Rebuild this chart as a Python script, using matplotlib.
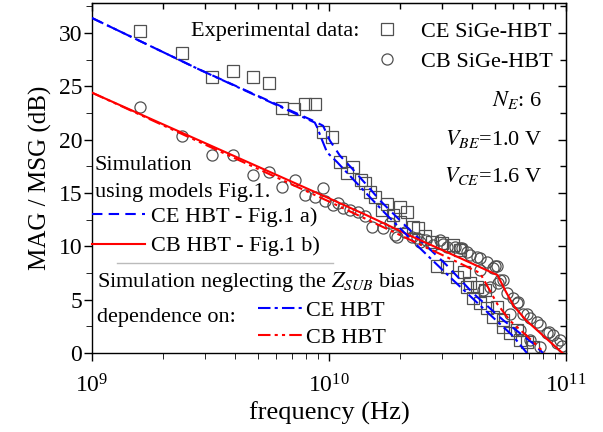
import numpy as np
import matplotlib
matplotlib.use('Agg')
import matplotlib.pyplot as plt
from matplotlib.lines import Line2D

plt.rcParams['font.family'] = ['Liberation Serif', 'DejaVu Serif']
plt.rcParams['mathtext.fontset'] = 'stix'

# experimental data, log10(f) and dB
ce_logf = [0.204, 0.380, 0.505, 0.595, 0.679, 0.747, 0.800, 0.851, 0.900, 0.940,
           0.975, 1.013, 1.046, 1.076, 1.101, 1.135, 1.152, 1.173, 1.194, 1.224,
           1.245, 1.268, 1.300, 1.300, 1.329, 1.355, 1.376, 1.405, 1.435, 1.456,
           1.477, 1.498, 1.523, 1.540, 1.553, 1.568, 1.582, 1.595, 1.608, 1.624,
           1.637, 1.658, 1.667, 1.692, 1.709, 1.734, 1.734, 1.764, 1.793, 1.806,
           1.835, 1.861]
ce_mag = [30.2, 28.1, 25.9, 26.4, 25.9, 25.3, 23.0, 22.9, 23.3, 23.3,
          20.7, 20.2, 17.9, 16.9, 17.4, 16.2, 15.9, 15.1, 14.6, 13.4,
          14.0, 12.9, 13.7, 12.3, 13.2, 11.8, 11.7, 11.0, 10.4, 8.2,
          10.3, 8.1, 10.1, 7.1, 9.7, 7.6, 6.2, 6.6, 5.2, 6.2,
          4.7, 5.9, 4.2, 3.4, 4.3, 2.4, 3.1, 1.9, 2.2, 1.2,
          1.0, 0.6]

cb_logf = [0.204, 0.380, 0.505, 0.595, 0.679, 0.747, 0.800, 0.855, 0.900, 0.940,
           0.975, 0.985, 1.017, 1.040, 1.059, 1.090, 1.122, 1.150, 1.181, 1.228,
           1.257, 1.278, 1.287, 1.320, 1.350, 1.371, 1.384, 1.410, 1.439, 1.468,
           1.480, 1.498, 1.530, 1.553, 1.561, 1.582, 1.595, 1.624, 1.637, 1.637,
           1.650, 1.665, 1.679, 1.692, 1.700, 1.709, 1.713, 1.722, 1.734, 1.751,
           1.764, 1.775, 1.793, 1.798, 1.806, 1.819, 1.835, 1.848, 1.848, 1.878,
           1.890, 1.890, 1.920, 1.930, 1.945, 1.962, 1.975, 1.983]
cb_mag = [23.1, 20.3, 18.6, 18.6, 16.7, 17.0, 15.6, 16.2, 14.8, 14.6,
          15.5, 14.2, 13.9, 14.1, 13.6, 13.4, 13.2, 12.8, 11.8, 11.7,
          12.2, 11.1, 10.9, 11.3, 10.9, 10.8, 10.4, 10.6, 10.1, 10.6,
          10.2, 9.9, 9.9, 9.8, 9.8, 9.5, 9.2, 9.0, 8.9, 7.8,
          5.9, 8.5, 6.2, 8.0, 8.2, 8.2, 6.6, 6.8, 6.8, 5.6,
          3.7, 5.2, 4.7, 4.8, 2.2, 3.7, 3.7, 3.3, 1.2, 2.9,
          2.6, 0.6, 1.9, 2.0, 1.7, 0.9, 1.2, 0.7]

# simulations
ce_sim_logf = [0.0, 0.45, 0.94, 0.975, 1.004, 1.046, 1.097, 1.165, 1.215, 1.342,
               1.498, 1.608, 1.734, 1.861, 1.903]
ce_sim_mag = [31.4, 26.6, 21.7, 21.3, 19.9, 18.5, 17.3, 15.6, 14.3, 11.5,
              8.2, 5.6, 3.1, 0.9, 0.0]
cb_sim_logf = [0.0, 0.5, 1.0, 1.16, 1.342, 1.553, 1.711, 1.745, 1.78, 1.83, 1.90, 1.985]
cb_sim_mag = [24.4, 19.45, 14.5, 12.9, 11.0, 8.9, 7.3, 5.8, 4.4, 3.1, 1.7, 0.0]

ce_noz_logf = [0.0, 0.45, 0.94, 0.949, 0.970, 0.992, 1.034, 1.118, 1.228, 1.371,
               1.511, 1.650, 1.776, 1.835]
ce_noz_mag = [31.4, 26.6, 21.6, 21.2, 20.0, 18.8, 17.9, 15.9, 13.3, 10.1,
              7.1, 4.2, 1.6, 0.0]
cb_noz_logf = [0.0, 0.5, 1.0, 1.2, 1.553, 1.637, 1.665, 1.71, 1.765, 1.835, 1.91]
cb_noz_mag = [24.4, 19.3, 14.2, 12.1, 8.4, 7.5, 6.4, 4.6, 3.0, 1.6, 0.0]


def hz(u):
    return 10 ** (9 + np.array(u))


fig = plt.figure(figsize=(6.03, 4.32), dpi=100)
ax = fig.add_axes([0.1526, 0.1829, 0.786, 0.810])

mk = dict(linestyle='none', markerfacecolor='none', markeredgecolor='#505050',
          markeredgewidth=0.9, markersize=8, zorder=2)
ax.plot(hz(ce_logf), ce_mag, marker='s', **mk)
ax.plot(hz(cb_logf), cb_mag, marker='o', **mk)

ax.plot(hz(ce_sim_logf), ce_sim_mag, color='blue', lw=1.5, ls=(0, (5, 3)), zorder=3)
ax.plot(hz(cb_sim_logf), cb_sim_mag, color='red', lw=1.5, zorder=3)
ax.plot(hz(ce_noz_logf), ce_noz_mag, color='blue', lw=1.5, ls=(0, (6, 2, 1.5, 2)), zorder=3)
ax.plot(hz(cb_noz_logf), cb_noz_mag, color='red', lw=1.5, ls=(0, (6, 2, 1.5, 2, 1.5, 2)), zorder=3)

ax.set_xscale('log')
ax.set_xlim(1e9, 1e11)
ax.set_ylim(0, 32.8)
ax.set_yticks(np.arange(0, 31, 5))
ax.set_yticks(np.arange(2.5, 32.8, 5), minor=True)

for s in ax.spines.values():
    s.set_linewidth(1.0)

ax.tick_params(axis='both', which='major', labelsize=17, width=1.0)
ax.tick_params(axis='x', which='major', direction='out', length=6, pad=9, top=False)
ax.tick_params(axis='x', which='minor', direction='out', length=4, top=False)
ax.tick_params(axis='y', which='major', direction='out', length=6, pad=1, right=False)
ax.tick_params(axis='y', which='minor', direction='out', length=4, right=False)

# mirrored inward ticks on top/right
axr = ax.secondary_yaxis('right')
axr.set_yticks(np.arange(0, 31, 5))
axr.set_yticks(np.arange(2.5, 32.8, 5), minor=True)
axr.tick_params(which='both', direction='in', labelright=False, width=1.0)
axr.tick_params(which='major', length=6)
axr.tick_params(which='minor', length=4)
axt = ax.secondary_xaxis('top')
axt.tick_params(which='both', direction='in', labeltop=False, width=1.0)
axt.tick_params(which='major', length=6)
axt.tick_params(which='minor', length=4)

ax.set_xlabel('frequency (Hz)', fontsize=19, labelpad=3)
ax.set_ylabel('MAG / MSG (dB)', fontsize=18, labelpad=5)

fs = 16
tr = ax.transAxes
ax.text(0.565, 0.906, 'Experimental data:', transform=tr, ha='right', va='baseline', fontsize=fs)
ax.text(0.95, 0.706, r'$N_E$: 6', transform=tr, ha='right', va='baseline', fontsize=fs)
ax.text(0.95, 0.594, r'$V_{BE}$=1.0 V', transform=tr, ha='right', va='baseline', fontsize=fs)
ax.text(0.95, 0.489, r'$V_{CE}$=1.6 V', transform=tr, ha='right', va='baseline', fontsize=fs)
ax.text(0.006, 0.523, 'Simulation', transform=tr, ha='left', va='baseline', fontsize=fs)
ax.text(0.006, 0.446, 'using models Fig.1.', transform=tr, ha='left', va='baseline', fontsize=fs)
ax.text(0.011, 0.190, r'Simulation neglecting the $Z_{SUB}$ bias', transform=tr,
        ha='left', va='baseline', fontsize=fs)
ax.text(0.011, 0.089, 'dependence on:', transform=tr, ha='left', va='baseline', fontsize=fs)
ax.plot([0.053, 0.508], [0.257, 0.257], transform=tr, color='#bbbbbb', lw=1.0)

h_exp = [Line2D([], [], marker='s', **mk), Line2D([], [], marker='o', **mk)]
leg1 = ax.legend(h_exp, ['CE SiGe-HBT', 'CB SiGe-HBT'], loc='upper left',
                 bbox_to_anchor=(0.576, 0.948), frameon=False, fontsize=fs,
                 borderpad=0, borderaxespad=0, handlelength=2.0, handletextpad=0.5,
                 labelspacing=0.42)
ax.add_artist(leg1)

h_sim = [Line2D([], [], color='blue', lw=1.5, ls=(0, (5, 3))),
         Line2D([], [], color='red', lw=1.5)]
leg2 = ax.legend(h_sim, ['CE HBT - Fig.1 a)', 'CB HBT - Fig.1 b)'], loc='upper left',
                 bbox_to_anchor=(0.0, 0.42), frameon=False, fontsize=fs,
                 borderpad=0, borderaxespad=0, handlelength=2.4, handletextpad=0.25,
                 labelspacing=0.42)
ax.add_artist(leg2)

h_noz = [Line2D([], [], color='blue', lw=1.5, ls=(0, (6, 2, 1.5, 2))),
         Line2D([], [], color='red', lw=1.5, ls=(0, (6, 2, 1.5, 2, 1.5, 2)))]
ax.legend(h_noz, ['CE HBT', 'CB HBT'], loc='upper left',
          bbox_to_anchor=(0.35, 0.15), frameon=False, fontsize=fs,
          borderpad=0, borderaxespad=0, handlelength=2.0, handletextpad=0.15,
          labelspacing=0.3)

fig.savefig('out.png', dpi=100)
